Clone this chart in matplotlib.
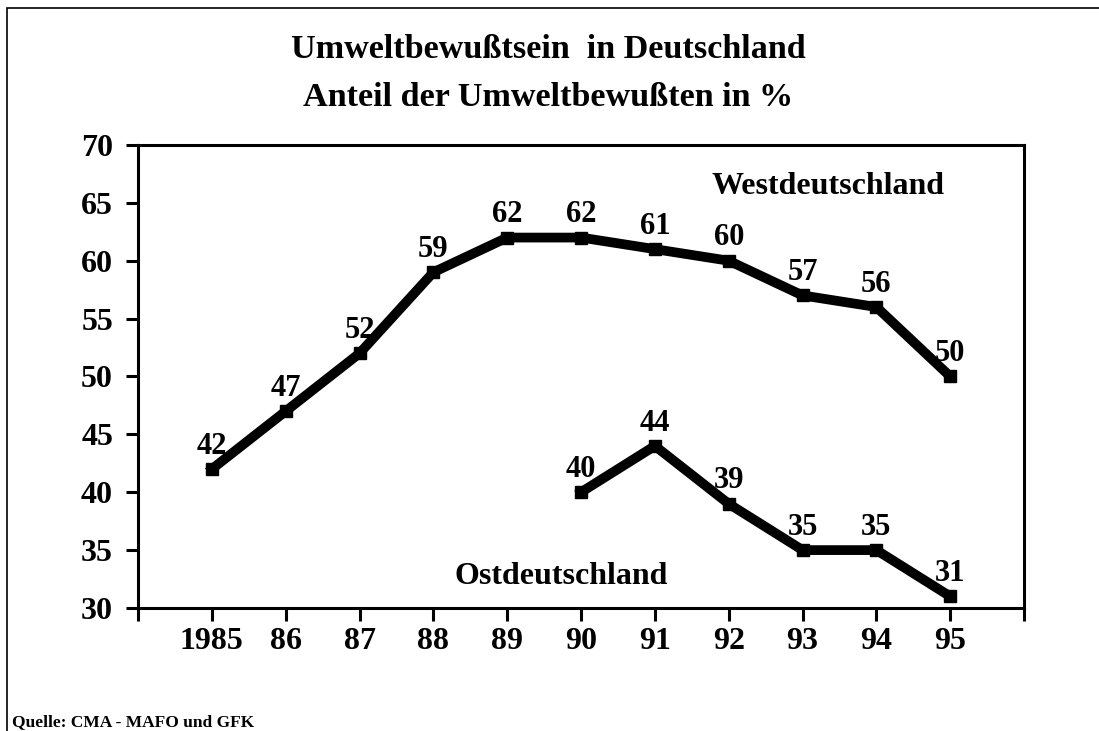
import numpy as np
import matplotlib
matplotlib.use("Agg")
from matplotlib import pyplot as plt
from matplotlib.patches import Rectangle

plt.rcParams['font.family'] = 'Liberation Serif'
plt.rcParams['font.weight'] = 'bold'

# data
years = ["1985", "86", "87", "88", "89", "90", "91", "92", "93", "94", "95"]
west = [42, 47, 52, 59, 62, 62, 61, 60, 57, 56, 50]
east_years = ["90", "91", "92", "93", "94", "95"]
east = [40, 44, 39, 35, 35, 31]

x_west = np.arange(len(years))
x_east = np.array([years.index(y) for y in east_years])

fig = plt.figure(figsize=(10.99, 7.31), dpi=100)
ax = fig.add_axes([0.1256, 0.1683, 0.8062, 0.6334])

# outer frame (only left/top visible in the original)
fig.patches.append(Rectangle((7/1099, -0.05), 1.1, 1 - 8/731 + 0.05,
                             transform=fig.transFigure, fill=False,
                             edgecolor='black', linewidth=1.2))

for xs, ys in [(x_west, west), (x_east, east)]:
    ax.plot(xs, ys, color='black', linewidth=7, marker='s', markersize=8.5,
            solid_joinstyle='miter')
    for xi, yi in zip(xs, ys):
        ax.annotate(str(yi), (xi, yi), xytext=(0, 6), textcoords='offset points',
                    ha='center', va='bottom', fontsize=22, fontweight='bold')

ax.set_xlim(-1, 11)
ax.set_ylim(30, 70)
ax.set_xticks(np.arange(-1, 12))
ax.set_xticklabels([""] + years + [""])
ax.set_yticks(np.arange(30, 71, 5))
for s in ax.spines.values():
    s.set_linewidth(2.2)
ax.tick_params(axis='both', direction='out', length=9, width=2.2, labelsize=23)
ax.tick_params(axis='x', pad=5)
ax.tick_params(axis='y', pad=9)

ax.text(8.35, 66.4, "Westdeutschland", ha='center', va='center', fontsize=23,
        fontweight='bold')
ax.text(4.73, 32.7, "Ostdeutschland", ha='center', va='center', fontsize=23,
        fontweight='bold')

fig.text(0.499, 1 - 50/731, "Umweltbewußtsein  in Deutschland", ha='center',
         va='center', fontsize=24.6, fontweight='bold')
fig.text(0.499, 1 - 97/731, "Anteil der Umweltbewußten in %", ha='center',
         va='center', fontsize=24.6, fontweight='bold')
fig.text(12/1099, 1 - 722/731, "Quelle: CMA - MAFO und GFK", ha='left',
         va='center', fontsize=12.5, fontweight='bold')

fig.savefig("out.png", dpi=100)
